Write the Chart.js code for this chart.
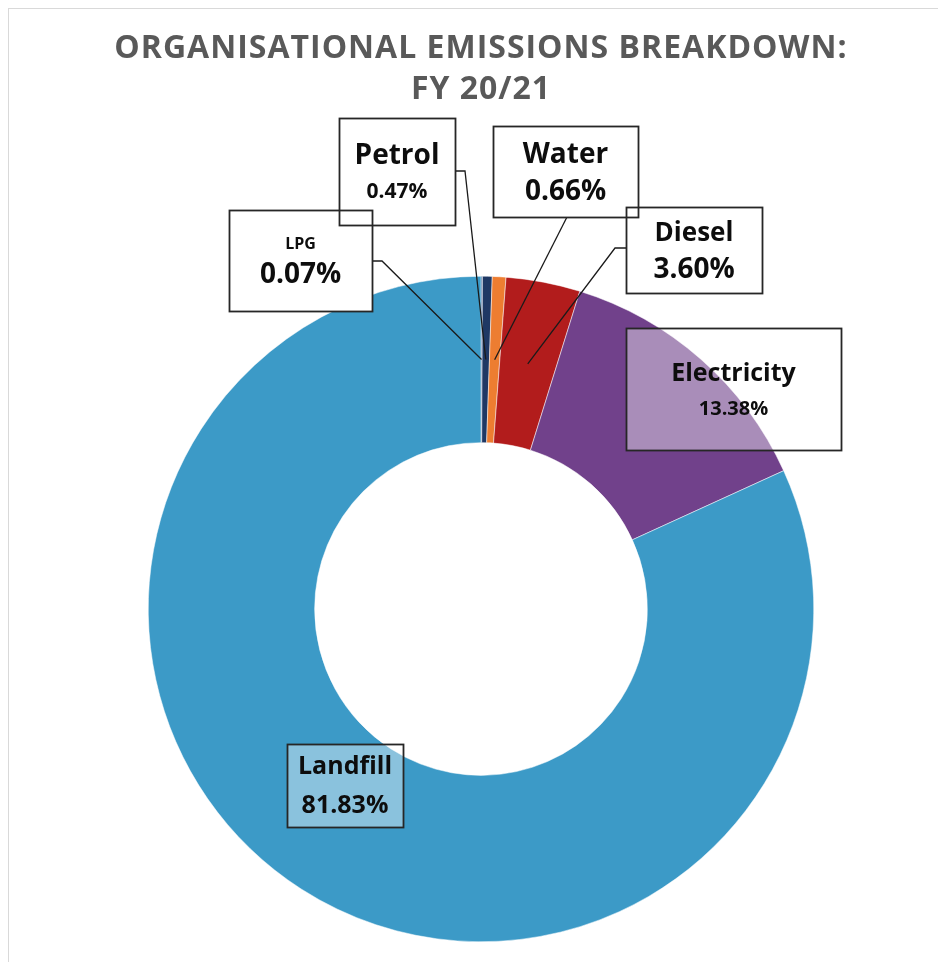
<!DOCTYPE html>
<html>
<head>
<meta charset="utf-8">
<script src="https://cdn.jsdelivr.net/npm/chart.js@4/dist/chart.umd.min.js"></script>
<style>
  html, body { margin: 0; padding: 0; background: #fff; }
  #wrap { width: 938px; height: 962px; position: relative; }
</style>
</head>
<body>
<div id="wrap"><canvas id="emissionsChart" width="938" height="962"></canvas></div>
<script>
const categories = ["LPG", "Petrol", "Water", "Diesel", "Electricity", "Landfill"];
const shares = [0.07, 0.47, 0.66, 3.60, 13.38, 81.83];
const shareLabels = ["0.07%", "0.47%", "0.66%", "3.60%", "13.38%", "81.83%"];
const sliceColors = ["#2e5c9a", "#1f3864", "#ed7d31", "#b21c1c", "#71418b", "#3c9ac7"];
const titleLines = ["ORGANISATIONAL EMISSIONS BREAKDOWN:", "FY 20/21"];

// label boxes: box rect, text sizes, text rows, fill, leader elbow
const labelBoxes = [
  { box: [229, 210, 143, 101], sizes: [16, 28], rows: [244, 275], fill: "#fff", elbow: [[372, 261], [382, 261]] },
  { box: [339, 118, 116, 107], sizes: [28, 21], rows: [156, 192], fill: "#fff", elbow: [[455, 171], [465, 171]] },
  { box: [493, 126, 145, 91], sizes: [28, 28], rows: [155, 192], fill: "#fff", elbow: [[567, 217]] },
  { box: [626, 207, 136, 86], sizes: [26, 28], rows: [234, 270], fill: "#fff", elbow: [[626, 248], [615, 248]] },
  { box: [626, 328, 215, 122], sizes: [25, 20], rows: [374, 409], fill: "rgba(255,255,255,0.4)", elbow: null },
  { box: [287, 744, 116, 83], sizes: [25, 25], rows: [767, 806], fill: "rgba(255,255,255,0.4)", elbow: null }
];

const chartDecor = {
  id: 'chartDecor',
  beforeDraw(chart) {
    const ctx = chart.ctx;
    ctx.save();
    ctx.fillStyle = '#fff';
    ctx.fillRect(0, 0, chart.width, chart.height);
    ctx.strokeStyle = '#d9d9d9';
    ctx.lineWidth = 1;
    ctx.strokeRect(8.5, 8.5, chart.width, chart.height);
    ctx.fillStyle = '#595959';
    ctx.font = 'bold 32px "Open Sans", sans-serif';
    ctx.letterSpacing = '1px';
    ctx.textAlign = 'center';
    ctx.textBaseline = 'middle';
    ctx.fillText(titleLines[0], 481, 49);
    ctx.fillText(titleLines[1], 481, 90);
    ctx.restore();
  },
  afterDraw(chart) {
    const ctx = chart.ctx;
    const arcs = chart.getDatasetMeta(0).data;
    ctx.save();
    // leader lines
    ctx.strokeStyle = '#1a1a1a';
    ctx.lineWidth = 1.3;
    labelBoxes.forEach((lb, i) => {
      if (!lb.elbow) return;
      const p = arcs[i].getCenterPoint();
      ctx.beginPath();
      ctx.moveTo(lb.elbow[0][0], lb.elbow[0][1]);
      for (let k = 1; k < lb.elbow.length; k++) ctx.lineTo(lb.elbow[k][0], lb.elbow[k][1]);
      ctx.lineTo(p.x, p.y);
      ctx.stroke();
    });
    // box fills
    labelBoxes.forEach(lb => {
      ctx.fillStyle = lb.fill;
      ctx.fillRect(lb.box[0], lb.box[1], lb.box[2], lb.box[3]);
    });
    // box borders
    ctx.strokeStyle = '#262626';
    ctx.lineWidth = 1.8;
    labelBoxes.forEach(lb => {
      ctx.strokeRect(lb.box[0] + 0.5, lb.box[1] + 0.5, lb.box[2], lb.box[3]);
    });
    // texts
    ctx.fillStyle = '#0d0d0d';
    ctx.textAlign = 'center';
    ctx.textBaseline = 'middle';
    labelBoxes.forEach((lb, i) => {
      const cx = lb.box[0] + lb.box[2] / 2;
      ctx.font = `bold ${lb.sizes[0]}px "Open Sans", sans-serif`;
      ctx.fillText(categories[i], cx, lb.rows[0]);
      ctx.font = `bold ${lb.sizes[1]}px "Open Sans", sans-serif`;
      ctx.fillText(shareLabels[i], cx, lb.rows[1]);
    });
    ctx.restore();
  }
};

new Chart(document.getElementById('emissionsChart'), {
  type: 'doughnut',
  data: {
    labels: categories,
    datasets: [{
      data: shares,
      backgroundColor: sliceColors,
      borderColor: '#ffffff',
      borderWidth: 0.5
    }]
  },
  options: {
    responsive: false,
    animation: false,
    cutout: '50%',
    layout: { padding: { left: 148, right: 124, top: 276, bottom: 20 } },
    plugins: {
      legend: { display: false },
      tooltip: { enabled: false },
      title: { display: false }
    }
  },
  plugins: [chartDecor]
});
</script>
</body>
</html>
